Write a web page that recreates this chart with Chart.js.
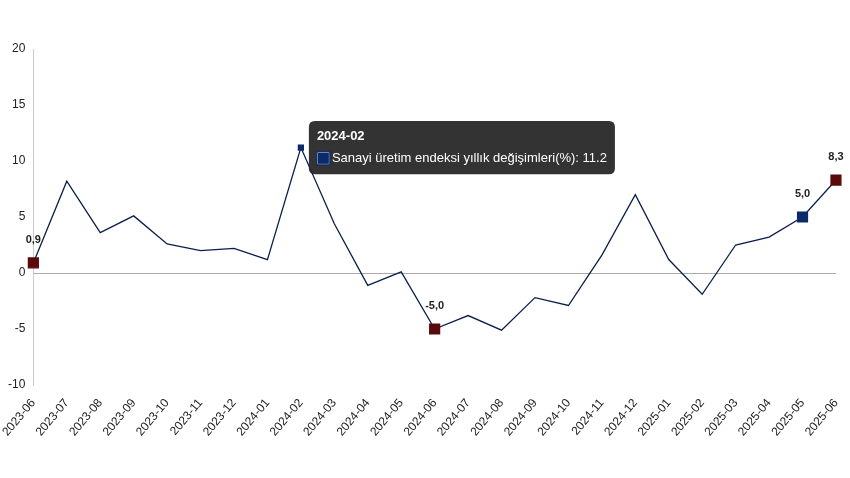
<!DOCTYPE html>
<html>
<head>
<meta charset="utf-8">
<script src="https://cdn.jsdelivr.net/npm/chart.js@4"></script>
<style>
  body { margin:0; background:#fff; }
  #wrap { width:850px; height:478px; }
</style>
</head>
<body>
<div id="wrap"><canvas id="myChart"></canvas></div>
<script>
var labels = ['2023-06','2023-07','2023-08','2023-09','2023-10','2023-11','2023-12','2024-01','2024-02','2024-03','2024-04','2024-05','2024-06','2024-07','2024-08','2024-09','2024-10','2024-11','2024-12','2025-01','2025-02','2025-03','2025-04','2025-05','2025-06'];
var values = [0.9, 8.2, 3.6, 5.1, 2.6, 2.0, 2.2, 1.2, 11.2, 4.4, -1.1, 0.1, -5.0, -3.8, -5.1, -2.2, -2.9, 1.6, 7.0, 1.2, -1.9, 2.5, 3.2, 5.0, 8.3];
var marked = {0:'#5a0a0a', 12:'#5a0a0a', 23:'#0b2a6b', 24:'#5a0a0a'};
var yTicks = [-10, -5, 0, 5, 10, 15, 20];

var pointBg = values.map(function(v, i){ return marked[i] || '#0b2a6b'; });
var pointR = values.map(function(v, i){ return marked[i] ? 7 : (i == 8 ? 3.5 : 0); });

// labels above highlighted points
var valueLabels = {
  id: 'valueLabels',
  afterDatasetsDraw: function(chart){
    var ctx = chart.ctx;
    var meta = chart.getDatasetMeta(0);
    ctx.save();
    ctx.font = 'bold 11px "Liberation Sans", Arial';
    ctx.fillStyle = '#222';
    ctx.textAlign = 'center';
    for (var i in marked) {
      var p = meta.data[i];
      ctx.fillText(values[i].toFixed(1).replace('.', ','), p.x, p.y - 20);
    }
    ctx.restore();
  }
};

var ctx = document.getElementById('myChart').getContext('2d');
var myChart = new Chart(ctx, {
  type: 'line',
  data: {
    labels: labels,
    datasets: [{
      label: 'Sanayi üretim endeksi yıllık değişimleri(%)',
      data: values,
      borderColor: '#0b1f4d',
      borderWidth: 1.3,
      tension: 0,
      pointStyle: 'rect',
      pointRadius: pointR,
      pointHoverRadius: pointR,
      pointBackgroundColor: pointBg,
      pointBorderColor: pointBg
    }]
  },
  options: {
    responsive: true,
    maintainAspectRatio: false,
    animation: false,
    layout: { padding: { left: 0, right: 14, top: 49, bottom: 36 } },
    plugins: {
      legend: { display: false },
      tooltip: {
        enabled: true,
        backgroundColor: 'rgba(40,40,40,0.95)',
        titleFont: { family: '"Liberation Sans", Arial', size: 13, weight: 'bold' },
        bodyFont: { family: '"Liberation Sans", Arial', size: 13 },
        padding: 8,
        caretSize: 0,
        caretPadding: 8,
        xAlign: 'left',
        yAlign: 'center',
        callbacks: {
          label: function(c){ return c.dataset.label + ': ' + c.parsed.y; }
        }
      }
    },
    scales: {
      x: {
        grid: { display: false },
        border: { display: false },
        ticks: { maxRotation: 50, minRotation: 50, color: '#222', font: { family: '"Liberation Sans", Arial', size: 12 } }
      },
      y: {
        min: -10, max: 20,
        afterBuildTicks: function(axis){ axis.ticks = yTicks.map(function(v){ return {value: v}; }); },
        grid: {
          drawTicks: false,
          color: function(c){ return c.tick && c.tick.value === 0 ? '#aaa' : 'rgba(0,0,0,0)'; }
        },
        border: { display: true, color: '#ccc' },
        ticks: { padding: 8, color: '#222', font: { family: '"Liberation Sans", Arial', size: 12 } }
      }
    }
  },
  plugins: [valueLabels]
});

var p = myChart.getDatasetMeta(0).data[8];
myChart.tooltip.setActiveElements([{datasetIndex: 0, index: 8}], {x: p.x, y: p.y});
myChart.update();
</script>
</body>
</html>
